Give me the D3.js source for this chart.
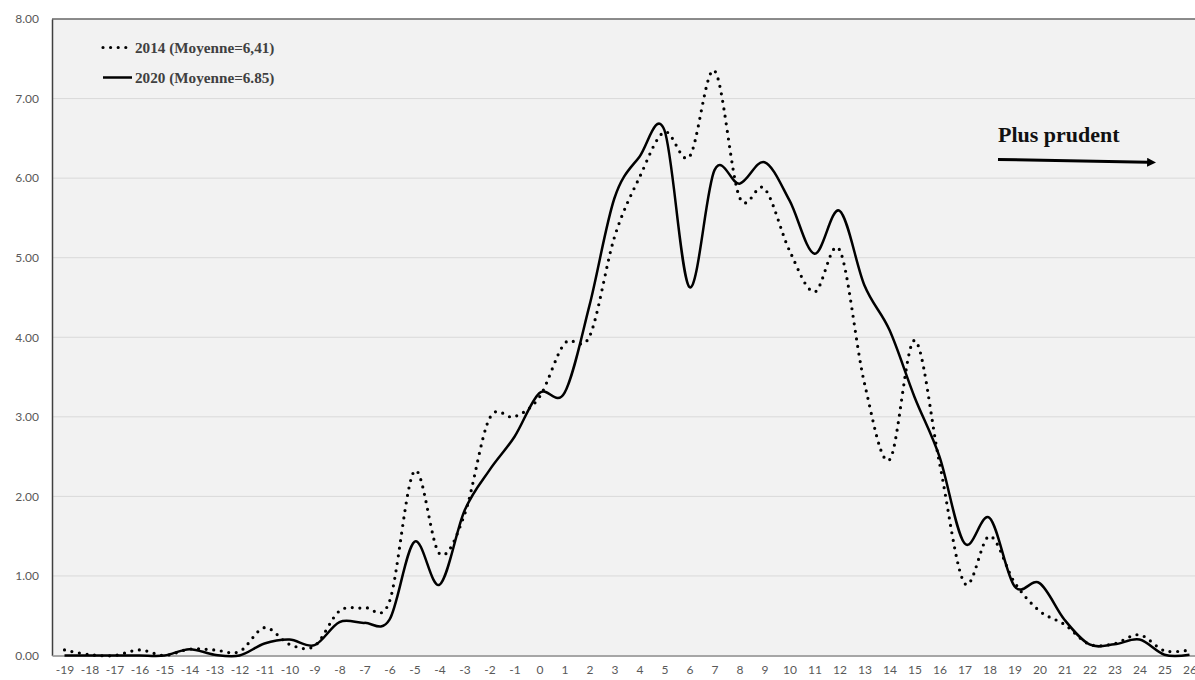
<!DOCTYPE html>
<html>
<head>
<meta charset="utf-8">
<script src="https://cdn.jsdelivr.net/npm/d3@7"></script>
<style>
  html, body { margin: 0; padding: 0; background: #ffffff; }
  svg { display: block; }
</style>
</head>
<body>
<svg id="chart" width="1195" height="680"></svg>
<script>
const categories = [-19,-18,-17,-16,-15,-14,-13,-12,-11,-10,-9,-8,-7,-6,-5,-4,-3,-2,-1,0,1,2,3,4,5,6,7,8,9,10,11,12,13,14,15,16,17,18,19,20,21,22,23,24,25,26];

const values2014 = [0.07,0.01,0.00,0.07,0.00,0.08,0.07,0.05,0.35,0.14,0.12,0.56,0.60,0.68,2.32,1.28,1.77,2.98,3.00,3.25,3.92,4.01,5.26,6.01,6.58,6.27,7.35,5.76,5.87,5.09,4.57,5.10,3.42,2.46,3.96,2.42,0.91,1.50,0.92,0.56,0.39,0.14,0.15,0.26,0.06,0.07];

const values2020 = [0.00,0.00,0.00,0.00,0.00,0.08,0.01,0.00,0.15,0.20,0.13,0.42,0.41,0.45,1.43,0.89,1.82,2.33,2.75,3.30,3.30,4.40,5.75,6.27,6.60,4.63,6.10,5.93,6.20,5.72,5.05,5.59,4.65,4.09,3.25,2.50,1.41,1.73,0.87,0.91,0.45,0.14,0.14,0.20,0.01,0.01];

const yTicks = [0,1,2,3,4,5,6,7,8];
const legendLabels = ["2014 (Moyenne=6,41)", "2020 (Moyenne=6.85)"];
const annotationText = "Plus prudent";

const svg = d3.select("#chart");
const plotLeft = 52, plotRight = 1202, plotTop = 19, plotBottom = 655.5;

const x = d3.scalePoint().domain(categories).range([plotLeft, plotRight]).padding(0.5);
const y = d3.scaleLinear().domain([0, 8]).range([plotBottom, plotTop]);

// plot background
svg.append("rect")
  .attr("x", plotLeft).attr("y", plotTop)
  .attr("width", plotRight - plotLeft).attr("height", plotBottom - plotTop)
  .attr("fill", "#f2f2f2");

// gridlines
svg.append("g").selectAll("line")
  .data(yTicks.filter(d => d > 0 && d < 8))
  .join("line")
  .attr("x1", plotLeft).attr("x2", plotRight)
  .attr("y1", d => y(d)).attr("y2", d => y(d))
  .attr("stroke", "#d9d9d9").attr("stroke-width", 1);

// top border
svg.append("line")
  .attr("x1", plotLeft).attr("x2", plotRight)
  .attr("y1", plotTop).attr("y2", plotTop)
  .attr("stroke", "#666666").attr("stroke-width", 1.5);

// y axis
const yAxis = svg.append("g")
  .attr("transform", `translate(${plotLeft},0)`)
  .call(d3.axisLeft(y).tickValues(yTicks).tickFormat(d3.format(".2f")).tickSize(0).tickPadding(13));
yAxis.select(".domain").attr("stroke", "#404040").attr("stroke-width", 1.5);
yAxis.selectAll("text").attr("font-family", "Lato, 'Noto Sans', sans-serif").attr("font-size", 12).attr("fill", "#595959");

// x axis
const xAxis = svg.append("g")
  .attr("transform", `translate(0,${plotBottom})`)
  .call(d3.axisBottom(x).tickSize(0).tickPadding(10));
xAxis.select(".domain").attr("stroke", "#a6a6a6").attr("stroke-width", 2);
xAxis.selectAll("text").attr("font-family", "Lato, 'Noto Sans', sans-serif").attr("font-size", 12).attr("fill", "#595959");

// lines
const line = d3.line()
  .x((d, i) => x(categories[i]))
  .y(d => y(d))
  .curve(d3.curveCardinal.tension(0));

svg.append("path")
  .datum(values2020)
  .attr("d", line)
  .attr("fill", "none")
  .attr("stroke", "#000")
  .attr("stroke-width", 2.5);

svg.append("path")
  .datum(values2014)
  .attr("d", line)
  .attr("fill", "none")
  .attr("stroke", "#000")
  .attr("stroke-width", 3.2)
  .attr("stroke-linecap", "round")
  .attr("stroke-dasharray", "0 7.6");

// legend
const legend = svg.append("g");
legend.append("line")
  .attr("x1", 103).attr("x2", 130).attr("y1", 47.5).attr("y2", 47.5)
  .attr("stroke", "#000").attr("stroke-width", 3.2)
  .attr("stroke-linecap", "round").attr("stroke-dasharray", "0 7.6");
legend.append("line")
  .attr("x1", 103).attr("x2", 132).attr("y1", 77.5).attr("y2", 77.5)
  .attr("stroke", "#000").attr("stroke-width", 2.5);
legend.selectAll("text")
  .data(legendLabels)
  .join("text")
  .attr("x", 135)
  .attr("y", (d, i) => 52.5 + i * 30)
  .attr("font-family", "'Liberation Serif', 'DejaVu Serif', serif")
  .attr("font-weight", "bold")
  .attr("font-size", 15.2)
  .attr("fill", "#404040")
  .text(d => d);

// annotation
svg.append("text")
  .attr("x", 998).attr("y", 142)
  .attr("font-family", "'Liberation Serif', 'DejaVu Serif', serif")
  .attr("font-weight", "bold")
  .attr("font-size", 22)
  .attr("fill", "#111")
  .text(annotationText);

svg.append("defs").append("marker")
  .attr("id", "arrow")
  .attr("viewBox", "0 0 10 10")
  .attr("refX", 1).attr("refY", 5)
  .attr("markerWidth", 3.2).attr("markerHeight", 3)
  .attr("orient", "auto")
  .append("path").attr("d", "M0,0 L10,5 L0,10 Z").attr("fill", "#000");

svg.append("line")
  .attr("x1", 998).attr("y1", 159.5)
  .attr("x2", 1148).attr("y2", 162.3)
  .attr("stroke", "#000").attr("stroke-width", 3)
  .attr("marker-end", "url(#arrow)");
</script>
</body>
</html>
